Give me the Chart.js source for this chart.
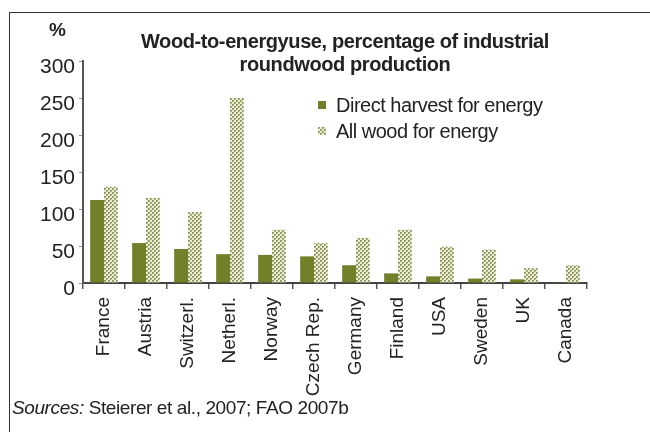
<!DOCTYPE html>
<html>
<head>
<meta charset="utf-8">
<script src="https://cdn.jsdelivr.net/npm/chart.js@4/dist/chart.umd.min.js"></script>
<style>
  body { margin: 0; background: #fff; font-family: "Liberation Sans", Arial, sans-serif; }
  #wrap { position: relative; width: 650px; height: 432px; overflow: hidden; }
  #frame { position: absolute; left: 9px; top: 12px; width: 660px; height: 440px;
           border-left: 1.5px solid #333; border-top: 1.5px solid #333; }
  #chart { position: absolute; left: 0; top: 0; }
  .title { position: absolute; left: 95px; width: 500px; text-align: center;
           font-weight: bold; font-size: 20px; color: #222; letter-spacing: -0.4px; }
  #pct { position: absolute; left: 49px; top: 19px; font-weight: bold; font-size: 19px; color: #222; }
  #legend { position: absolute; left: 318px; top: 92px; font-size: 20px; color: #222; letter-spacing: -0.5px; }
  #legend div { height: 26px; line-height: 26px; }
  #legend canvas { vertical-align: middle; margin-right: 10px; position: relative; top: -2px; }
  #src { position: absolute; left: 12px; top: 397px; font-size: 19px; color: #222; letter-spacing: -0.4px; }
</style>
</head>
<body>
<div id="wrap">
  <div id="frame"></div>
  <canvas id="chart" width="650" height="432"></canvas>
  <div id="pct">%</div>
  <div class="title" style="top:30px">Wood-to-energyuse, percentage of industrial</div>
  <div class="title" style="top:53px">roundwood production</div>
  <div id="legend"></div>
  <div id="src"><i>Sources:</i> Steierer et al., 2007; FAO 2007b</div>
</div>
<script>
// countries and shares (% of industrial roundwood production)
const countries = ['France', 'Austria', 'Switzerl.', 'Netherl.', 'Norway', 'Czech Rep.',
                   'Germany', 'Finland', 'USA', 'Sweden', 'UK', 'Canada'];
const directHarvest = [112, 54, 46, 39, 38, 36, 24, 13, 9, 6, 5, 1];
const allWood = [130, 115, 96, 250, 72, 54, 61, 72, 49, 45, 20, 24];
const yTicks = [0, 50, 100, 150, 200, 250, 300];

const olive = '#72802a';

// small check texture for the "all wood" bars
function makeHatch() {
  const c = document.createElement('canvas');
  c.width = 4; c.height = 4;
  const g = c.getContext('2d');
  g.fillStyle = '#eceec6';
  g.fillRect(0, 0, 4, 4);
  g.fillStyle = '#8f9472';
  g.fillRect(0, 0, 2, 2); g.fillRect(2, 2, 2, 2);
  g.fillStyle = '#c2c69c';
  g.fillRect(1, 1, 1, 1); g.fillRect(3, 3, 1, 1);
  return c;
}
const hatchCanvas = makeHatch();
const hatch = document.getElementById('chart').getContext('2d').createPattern(hatchCanvas, 'repeat');

const ctx = document.getElementById('chart');
const chart = new Chart(ctx, {
  type: 'bar',
  data: {
    labels: countries,
    datasets: [
      { label: 'Direct harvest for energy', data: directHarvest, backgroundColor: olive },
      { label: 'All wood for energy', data: allWood, backgroundColor: hatch }
    ]
  },
  options: {
    responsive: false,
    animation: false,
    categoryPercentage: 0.66,
    barPercentage: 1.0,
    layout: { padding: { left: 38, top: 61, right: 63, bottom: 14 } },
    plugins: { legend: { display: false }, tooltip: { enabled: false } },
    scales: {
      x: {
        grid: { offset: true, drawOnChartArea: false, tickLength: 6, color: '#555', lineWidth: 1.5 },
        border: { color: '#444', width: 2 },
        ticks: {
          minRotation: 90, maxRotation: 90, padding: 8, color: '#222',
          font: { family: 'Liberation Sans', size: 19 }
        },
        afterFit: function (scale) { scale.height = 135; }
      },
      y: {
        min: 0, max: 300,
        afterBuildTicks: function (scale) { scale.ticks = yTicks.map(v => ({ value: v })); },
        grid: { drawOnChartArea: false, tickLength: 4, color: '#999' },
        border: { color: '#555', width: 2 },
        ticks: {
          padding: 4, labelOffset: 6, color: '#222',
          font: { family: 'Liberation Sans', size: 21 }
        },
        afterFit: function (scale) { scale.width = 45; }
      }
    }
  }
});

// legend built from the datasets
const legend = document.getElementById('legend');
chart.data.datasets.forEach(function (ds) {
  const row = document.createElement('div');
  const sw = document.createElement('canvas');
  sw.width = 8; sw.height = 8;
  const g = sw.getContext('2d');
  g.fillStyle = typeof ds.backgroundColor === 'string' ? ds.backgroundColor
              : g.createPattern(hatchCanvas, 'repeat');
  g.fillRect(0, 0, 8, 8);
  row.appendChild(sw);
  row.appendChild(document.createTextNode(ds.label));
  legend.appendChild(row);
});
</script>
</body>
</html>
